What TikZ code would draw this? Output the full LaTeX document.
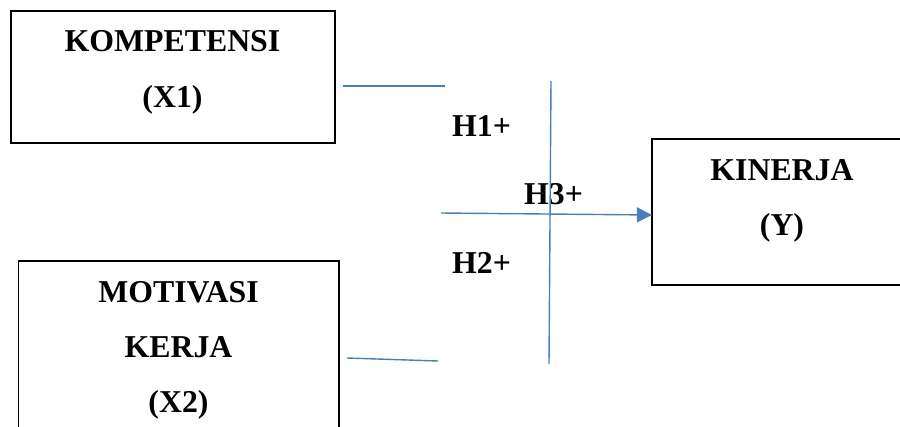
\documentclass[tikz,border=0pt]{standalone}
\usepackage{fontspec}
\setmainfont{Liberation Serif}
\usetikzlibrary{arrows.meta}
\definecolor{lineblue}{RGB}{74,126,187}
\tikzset{
  box/.style={draw=black, line width=1.2pt, rectangle, inner sep=0pt},
  txt/.style={font=\fontsize{31.8}{32}\selectfont\bfseries, anchor=base, inner sep=0pt},
  link/.style={draw=lineblue, line width=1.4pt},
}
\begin{document}
\begin{tikzpicture}[x=1pt,y=-1pt]
\useasboundingbox (0,0) rectangle (900,426);
\clip (0,0) rectangle (900,426);
% boxes
\node[box, minimum width=324pt, minimum height=132pt] (komp) at (173,77) {};
\node[box, minimum width=320.5pt, minimum height=180pt] (moti) at (178.75,351) {};
\node[box, minimum width=260pt, minimum height=146pt] (kin) at (782,212) {};
% texts
\node[txt] (t1) at (172.5,51.5) {KOMPETENSI};
\node[txt] (t2) at (172.5,107) {(X1)};
\node[txt] (t3) at (178.5,302.5) {MOTIVASI};
\node[txt] (t4) at (178.5,357.5) {KERJA};
\node[txt] (t5) at (178.5,412.5) {(X2)};
\node[txt] (t6) at (782,180) {KINERJA};
\node[txt] (t7) at (782,235) {(Y)};
\node[txt, anchor=base west] (h1) at (452,136) {H1+};
\node[txt, anchor=base west] (h3) at (524,204) {H3+};
\node[txt, anchor=base west] (h2) at (452,273) {H2+};
% connectors
\coordinate (a1) at (343,86);
\coordinate (a2) at (445,86);
\coordinate (b1) at (347,358);
\coordinate (b2) at (438,361);
\coordinate (v1) at (551,81);
\coordinate (v2) at (549,364);
\coordinate (c1) at (441,213);
\draw[link] (a1) -- (a2);
\draw[link] (b1) -- (b2);
\draw[link] (v1) -- (v2);
\draw[link, -{Triangle[length=15pt,width=15pt]}, shorten >=-0.5pt] (c1) -- ([yshift=-3pt]kin.west);
\end{tikzpicture}
\end{document}
